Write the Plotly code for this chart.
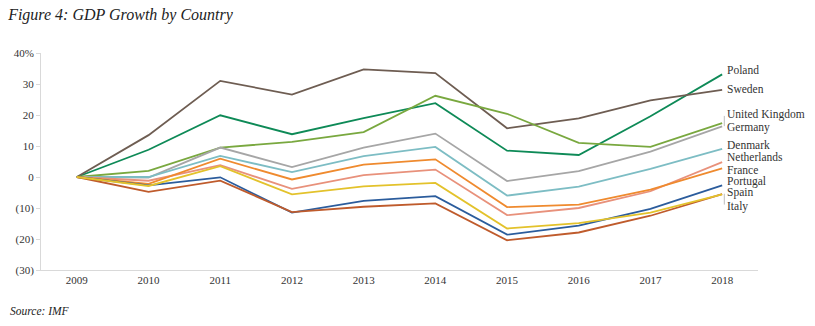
import plotly.graph_objects as go

years = [2009, 2010, 2011, 2012, 2013, 2014, 2015, 2016, 2017, 2018]

countries = ["Poland", "Sweden", "United Kingdom", "Germany", "Denmark",
             "Netherlands", "France", "Portugal", "Spain", "Italy"]

poland      = [0, 8.8, 19.9, 13.8, 19.0, 23.8, 8.5, 7.1, 19.6, 33.1]
sweden      = [0, 13.5, 31.0, 26.6, 34.7, 33.5, 15.7, 18.9, 24.7, 28.1]
uk          = [0, 2.0, 9.5, 11.3, 14.5, 26.2, 20.4, 11.0, 9.7, 17.4]
germany     = [0, -0.2, 9.5, 3.2, 9.5, 14.0, -1.3, 1.9, 8.2, 16.3]
denmark     = [0, 0.0, 6.8, 1.6, 6.7, 9.7, -6.0, -3.1, 2.6, 9.1]
netherlands = [0, -1.2, 3.8, -3.8, 0.6, 2.4, -12.3, -10.0, -4.6, 4.8]
france      = [0, -2.2, 5.9, -0.8, 4.0, 5.7, -9.7, -8.9, -4.1, 2.8]
portugal    = [0, -2.7, -0.1, -11.5, -7.7, -6.2, -18.6, -15.7, -10.3, -2.7]
spain       = [0, -4.8, -1.2, -11.3, -9.6, -8.5, -20.4, -17.9, -12.5, -5.5]
italy       = [0, -2.9, 3.5, -5.6, -3.0, -1.9, -16.6, -14.9, -11.5, -5.6]

series = [poland, sweden, uk, germany, denmark, netherlands, france, portugal, spain, italy]

colors = ["#0e8a57", "#6e5d52", "#79a83f", "#a6a6a6", "#7dbdc4",
          "#e8917b", "#ef8a2e", "#2b5c9c", "#bf5b2c", "#e3c22b"]

# label vertical positions (data units) for the right-hand labels
label_y = [34.4, 28.3, 20.2, 15.9, 10.2, 6.5, 2.3, -1.6, -4.9, -9.4]

tick_vals = [40, 30, 20, 10, 0, -10, -20, -30]
tick_text = ["40%", "30", "20", "10", "0", "(10)", "(20)", "(30)"]

font_family = "Liberation Serif, Times New Roman, serif"

fig = go.Figure()
for name, vals, col in zip(countries, series, colors):
    fig.add_trace(go.Scatter(x=years, y=vals, mode="lines", name=name,
                             line=dict(color=col, width=1.8), hoverinfo="x+y+name"))

for name, ly in zip(countries, label_y):
    fig.add_annotation(x=years[-1], y=ly, text=name, showarrow=False,
                       xanchor="left", yanchor="middle", xshift=3,
                       font=dict(family=font_family, size=11.5, color="#333333"))

# small leader brackets for crowded labels
for a, b in [(2, 3), (8, 9)]:
    ya = series[a][-1]
    yb = series[b][-1]
    top = max(label_y[a], ya)
    bot = min(label_y[b], yb)
    fig.add_shape(type="line", xref="x", yref="y", x0=years[-1] + 0.03, x1=years[-1] + 0.03,
                  y0=top - 0.5, y1=bot + 0.5, line=dict(color="#bdbdbd", width=1))

fig.update_layout(
    width=815, height=326,
    margin=dict(l=41, r=57, t=53, b=56),
    paper_bgcolor="white", plot_bgcolor="white",
    showlegend=False,
    font=dict(family=font_family, color="#333333", size=11),
    title=dict(text="<i>Figure 4: GDP Growth by Country</i>", x=0.01, xanchor="left",
               y=0.955, yanchor="middle",
               font=dict(family=font_family, size=16, color="#222222")),
)

fig.add_annotation(text="<i>Source: IMF</i>", xref="paper", yref="paper",
                   x=-41/717, y=-0.0, yshift=-41, xshift=8, xanchor="left", yanchor="middle",
                   showarrow=False, font=dict(family=font_family, size=11.5, color="#222222"))

fig.update_xaxes(range=[2008.5, 2018.5], tickmode="array", tickvals=years,
                 ticktext=[str(y) for y in years], showgrid=False, zeroline=False,
                 showline=True, linecolor="#d9d9d9", linewidth=1, ticks="",
                 tickfont=dict(family=font_family, size=11, color="#333333"))
fig.update_yaxes(range=[-30, 40], tickmode="array", tickvals=tick_vals, ticktext=tick_text,
                 showgrid=False, zeroline=False, showline=True, linecolor="#d9d9d9",
                 linewidth=1, ticks="outside", ticklen=4, tickcolor="#d9d9d9",
                 tickfont=dict(family=font_family, size=11, color="#333333"))

fig.write_html("out.html")
